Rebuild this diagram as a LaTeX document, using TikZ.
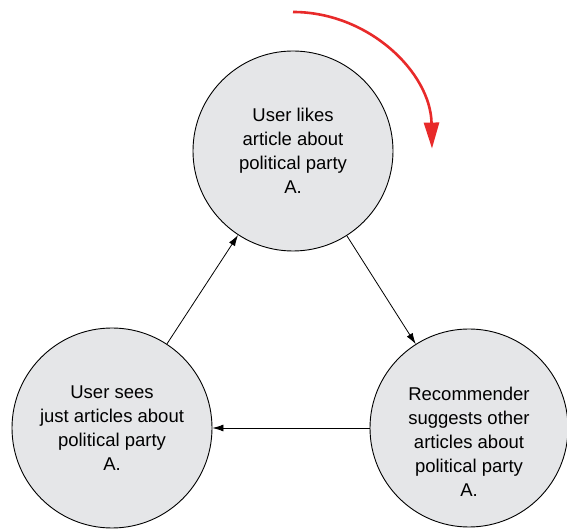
\documentclass[tikz,border=0pt]{standalone}
\usepackage{fontspec}
\setmainfont{Liberation Sans}
\usetikzlibrary{arrows.meta}

\definecolor{stepgray}{RGB}{229,230,232}
\definecolor{loopred}{RGB}{232,42,42}

\begin{document}
\begin{tikzpicture}[x=1pt,y=1pt,
    stage/.style={circle, draw=black, line width=0.9pt, fill=stepgray,
      minimum size=200pt, inner sep=0pt, align=center,
      font=\fontsize{18.5}{24}\selectfont},
    stagetext/.style={align=center, inner sep=0pt,
      font=\fontsize{18.5}{24}\selectfont},
    flow/.style={-{Latex[length=11pt,width=7pt]}, line width=0.8pt}]
    \useasboundingbox (0,0) rectangle (567,532);

    % The three stages of the loop
    \node[stage] (likes) at (293,381) {User likes\\article about\\political party\\A.};
    \node[stage] (sees) at (112,104) {User sees\\just articles about\\political party\\A.};
    \node[stage, minimum size=198pt] (recommends) at (469,104) {};
    \node[stagetext] (recommendstext) at ([yshift=-14pt]recommends.center)
        {Recommender\\suggests other\\articles about\\political party\\A.};

    % Arrows between the stages
    \draw[flow] (sees) -- (likes);
    \draw[flow] (likes) -- (recommends);
    \draw[flow] (recommends) -- (sees);

    % Red arrow showing the direction of the loop
    \coordinate (turn) at (293,520);
    \draw[loopred, line width=2.6pt, -{Triangle[length=26pt,width=15pt]}]
        (turn) arc (90:1:139pt);
\end{tikzpicture}
\end{document}
